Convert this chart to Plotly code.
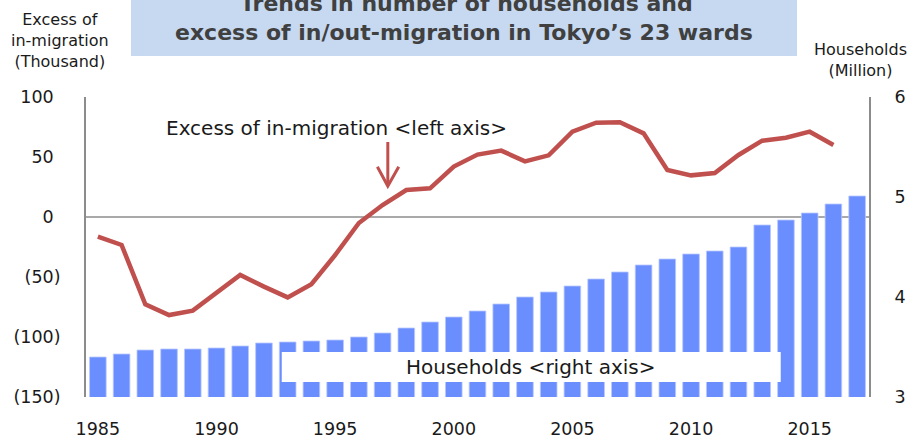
import plotly.graph_objects as go

years = list(range(1985, 2018))
households_million = [3.40, 3.43, 3.47, 3.48, 3.48, 3.49, 3.51, 3.54, 3.55, 3.56, 3.57,
                      3.60, 3.64, 3.69, 3.75, 3.80, 3.86, 3.93, 4.00, 4.05, 4.11, 4.18,
                      4.25, 4.32, 4.38, 4.43, 4.46, 4.50, 4.72, 4.77, 4.84, 4.93, 5.01]
migration_years = list(range(1985, 2017))
migration_thousand = [-16.4, -23.3, -72.8, -81.7, -78.0, -63.6, -48.3, -58.0, -67.0, -56.0,
                      -31.7, -5.0, 10.0, 22.5, 23.9, 42.0, 52.0, 55.3, 46.4, 51.4, 71.1,
                      78.6, 78.9, 69.7, 39.2, 34.7, 36.7, 51.7, 63.6, 66.1, 71.1, 60.0]
x_tickvals = [1985, 1990, 1995, 2000, 2005, 2010, 2015]
left_tickvals = [-150, -100, -50, 0, 50, 100]
left_ticktext = ["(150)", "(100)", "(50)", "0", "50", "100"]
right_tickvals = [3, 4, 5, 6]

FONT = "DejaVu Sans"
RED = "#c0504d"
BLUE = "#6b8efe"
GREY = "#8c8c8c"
TXT = "#1a1a1a"

# plot area in pixels: x 86..869, y 97..397
L, R, T, B = 86, 41, 97, 42
PW, PH = 910 - L - R, 439 - T - B


def px(x):
    return (x - L) / PW


def py(y):
    return (439 - B - y) / PH


pad = "<span style='color:rgba(0,0,0,0)'>)</span>"
left_text = [t if t.startswith("(") else t + pad for t in left_ticktext]

fig = go.Figure()
fig.add_trace(go.Bar(x=years, y=households_million, yaxis="y2", width=0.7,
                     marker=dict(color=BLUE, line=dict(width=0.8, color="#b8c8ff")),
                     name="Households"))
fig.add_trace(go.Scatter(x=migration_years, y=migration_thousand, yaxis="y", mode="lines",
                         line=dict(color=RED, width=4.5), name="Excess of in-migration"))

shapes = [
    # title banner
    dict(type="rect", xref="paper", yref="paper", x0=px(131), x1=px(797), y0=py(56), y1=py(-5),
         fillcolor="#c6d9f1", line=dict(width=0), layer="above"),
    # zero line (behind the bars)
    dict(type="line", xref="paper", yref="y", x0=0, x1=1, y0=0, y1=0,
         line=dict(color=GREY, width=1.6), layer="below"),
    # white label box
    dict(type="rect", xref="x", yref="y2", x0=1992.75, x1=2013.78, y0=3.15, y1=3.45,
         fillcolor="white", line=dict(width=0), layer="above"),
    # arrow shaft and head
    dict(type="line", xref="x", yref="y", x0=1997.22, x1=1997.22, y0=62.5, y1=27,
         line=dict(color=RED, width=3), layer="above"),
    dict(type="path", xref="x", yref="y", path="M 1996.78,41.9 L 1997.22,25.8 L 1997.68,41.9",
         line=dict(color=RED, width=3), layer="above"),
]

annotations = [
    dict(text="<b>Trends in number of households and</b>", xref="paper", yref="paper",
         x=px(466), y=py(4), xanchor="center", yanchor="middle", showarrow=False,
         font=dict(family=FONT, size=22, color="#404040")),
    dict(text="<b>excess of in/out-migration in Tokyo’s 23 wards</b>", xref="paper", yref="paper",
         x=px(464), y=py(33), xanchor="center", yanchor="middle", showarrow=False,
         font=dict(family=FONT, size=22, color="#404040")),
    dict(text="Excess of<br>in-migration<br>(Thousand)", xref="paper", yref="paper",
         x=px(60), y=py(40), xanchor="center", yanchor="middle", showarrow=False,
         font=dict(family=FONT, size=16, color=TXT)),
    dict(text="Households<br>(Million)", xref="paper", yref="paper",
         x=px(860), y=py(60), xanchor="center", yanchor="middle", showarrow=False,
         font=dict(family=FONT, size=16, color=TXT)),
    dict(text="Excess of in-migration &lt;left axis&gt;", xref="paper", yref="paper",
         x=px(336), y=py(128), xanchor="center", yanchor="middle", showarrow=False,
         font=dict(family=FONT, size=20, color=TXT)),
    dict(text="Households &lt;right axis&gt;", xref="x", yref="y2",
         x=(1992.75 + 2013.78) / 2, y=3.3, xanchor="center", yanchor="middle", showarrow=False,
         font=dict(family=FONT, size=20, color=TXT)),
]

fig.update_layout(
    width=910, height=439,
    margin=dict(l=L, r=R, t=T, b=B, autoexpand=False),
    paper_bgcolor="white", plot_bgcolor="white",
    showlegend=False,
    font=dict(family=FONT, size=17.5, color=TXT),
    xaxis=dict(range=[1984.5, 2017.5], tickvals=x_tickvals, showgrid=False, zeroline=False,
               showline=False, ticks="", ticklabelstandoff=19, automargin=False,
               tickfont=dict(family=FONT, size=17.5, color=TXT)),
    yaxis=dict(range=[-150, 100], tickvals=left_tickvals, ticktext=left_text, showgrid=False,
               zeroline=False, showline=True, linecolor=GREY, linewidth=2, ticks="",
               ticklabelstandoff=20, automargin=False,
               tickfont=dict(family=FONT, size=17.5, color=TXT)),
    yaxis2=dict(range=[3, 6], tickvals=right_tickvals, overlaying="y", side="right",
                showgrid=False, zeroline=False, showline=True, linecolor=GREY, linewidth=2,
                ticks="", ticklabelstandoff=20, automargin=False,
                tickfont=dict(family=FONT, size=17.5, color=TXT)),
    shapes=shapes,
    annotations=annotations,
    bargap=0.3,
)

fig.write_html("out.html", config={"displayModeBar": False},
               post_script="document.body.style.margin='0';")
